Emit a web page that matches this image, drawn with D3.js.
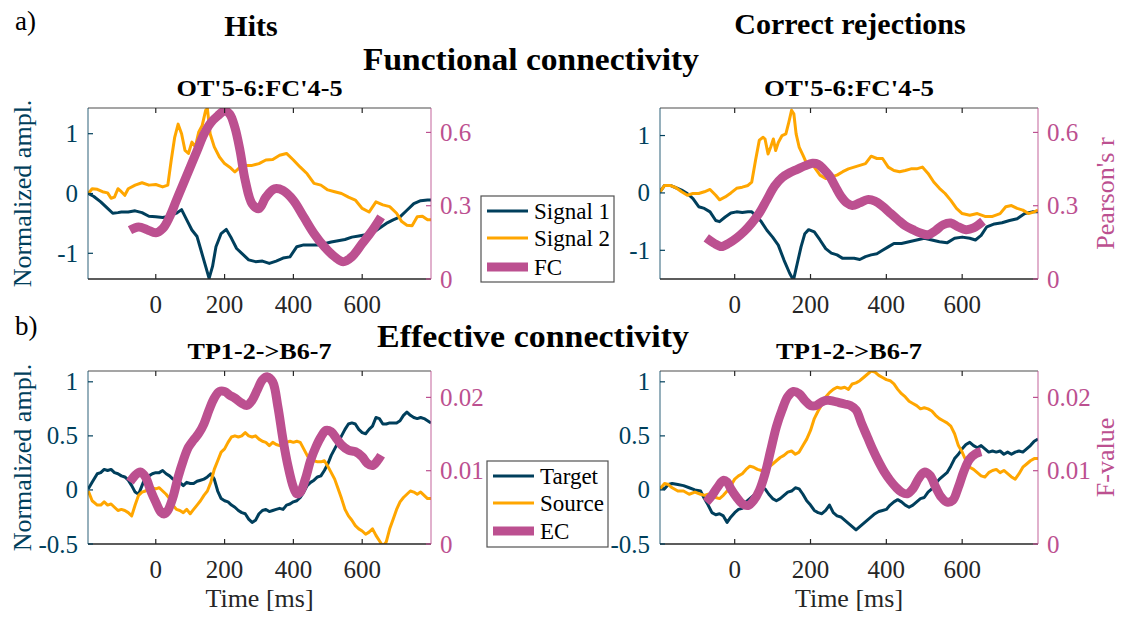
<!DOCTYPE html>
<html>
<head>
<meta charset="utf-8">
<script src="https://cdn.jsdelivr.net/npm/d3@7"></script>
<style>
  html, body { margin: 0; padding: 0; background: #fff; }
</style>
</head>
<body>
<svg id="fig" width="1121" height="617"></svg>
<script>
// ---- data: [time in ms, value] ----
const timeTicks = [0, 200, 400, 600];
const ampTicksTop = [-1, 0, 1];
const ampTicksBottom = [-0.5, 0, 0.5, 1];
const fcTicks = [0, 0.3, 0.6];
const ecTicks = [0, 0.01, 0.02];
const panelTitlesTop = ["OT'5-6:FC'4-5", "OT'5-6:FC'4-5"];
const panelTitlesBottom = ["TP1-2->B6-7", "TP1-2->B6-7"];
const legendTop = ["Signal 1", "Signal 2", "FC"];
const legendBottom = ["Target", "Source", "EC"];

// Hits, functional connectivity
const hitsSignal1 = [[-196,0.0],[-180,-0.05],[-160,-0.14],[-140,-0.25],[-125,-0.33],[-110,-0.32],[-100,-0.31],[-80,-0.31],[-60,-0.29],[-40,-0.32],[-20,-0.38],[0,-0.39],[20,-0.40],[40,-0.38],[60,-0.33],[75,-0.27],[90,-0.44],[105,-0.61],[120,-0.72],[130,-0.92],[145,-1.22],[155,-1.42],[165,-1.22],[175,-0.89],[190,-0.67],[205,-0.60],[220,-0.75],[235,-0.92],[250,-1.0],[270,-1.11],[290,-1.14],[310,-1.13],[330,-1.17],[350,-1.13],[370,-1.08],[390,-1.06],[410,-0.89],[430,-0.86],[450,-0.86],[470,-0.86],[490,-0.84],[510,-0.81],[530,-0.79],[550,-0.77],[570,-0.73],[590,-0.71],[610,-0.69],[630,-0.66],[650,-0.58],[670,-0.50],[690,-0.44],[710,-0.39],[730,-0.28],[750,-0.17],[770,-0.12],[790,-0.11],[800,-0.11]];
const hitsSignal2 = [[-196,0.0],[-185,0.08],[-170,0.07],[-155,0.03],[-140,0.01],[-130,-0.08],[-120,-0.06],[-110,0.08],[-100,0.03],[-90,-0.03],[-80,0.08],[-60,0.14],[-40,0.18],[-20,0.14],[0,0.15],[20,0.11],[35,0.14],[45,0.56],[55,0.94],[65,1.16],[75,1.0],[85,0.72],[95,0.67],[105,0.86],[115,0.78],[125,1.03],[135,1.14],[145,1.39],[150,1.42],[158,1.0],[170,0.78],[185,0.61],[200,0.50],[215,0.44],[230,0.36],[245,0.44],[260,0.47],[280,0.47],[300,0.50],[320,0.56],[340,0.57],[360,0.64],[380,0.67],[400,0.56],[420,0.44],[440,0.33],[460,0.17],[480,0.14],[500,0.06],[520,0.03],[540,0.0],[560,-0.06],[580,-0.11],[600,-0.25],[620,-0.31],[640,-0.14],[660,-0.19],[680,-0.22],[700,-0.33],[715,-0.47],[730,-0.53],[745,-0.54],[760,-0.39],[775,-0.38],[790,-0.44],[800,-0.44]];
const hitsFC = [[-75,0.200],[-50,0.213],[-25,0.202],[0,0.189],[20,0.206],[40,0.254],[60,0.322],[80,0.390],[100,0.457],[120,0.525],[140,0.593],[160,0.640],[180,0.668],[200,0.688],[215,0.675],[230,0.620],[245,0.525],[260,0.403],[280,0.308],[300,0.288],[320,0.335],[345,0.369],[370,0.362],[400,0.322],[430,0.254],[460,0.186],[490,0.132],[520,0.091],[545,0.071],[570,0.091],[600,0.145],[630,0.200],[655,0.254]];

// Correct rejections, functional connectivity
const crSignal1 = [[-197,0.02],[-185,0.13],[-170,0.13],[-155,0.09],[-140,0.05],[-125,-0.01],[-110,-0.10],[-95,-0.24],[-80,-0.27],[-65,-0.33],[-50,-0.48],[-40,-0.50],[-25,-0.42],[-10,-0.35],[5,-0.33],[20,-0.34],[35,-0.33],[45,-0.33],[55,-0.39],[70,-0.50],[85,-0.65],[100,-0.77],[115,-0.91],[130,-1.17],[145,-1.40],[155,-1.52],[165,-1.23],[175,-0.94],[185,-0.71],[195,-0.64],[210,-0.68],[225,-0.82],[240,-0.97],[255,-1.05],[270,-1.08],[285,-1.14],[300,-1.14],[315,-1.14],[330,-1.16],[345,-1.11],[360,-1.08],[375,-1.06],[390,-1.0],[405,-0.94],[420,-0.88],[440,-0.88],[460,-0.85],[480,-0.82],[500,-0.79],[520,-0.82],[540,-0.85],[560,-0.87],[580,-0.79],[600,-0.77],[620,-0.79],[635,-0.82],[650,-0.74],[665,-0.59],[685,-0.54],[705,-0.52],[725,-0.48],[745,-0.45],[765,-0.36],[785,-0.33],[800,-0.33]];
const crSignal2 = [[-197,0.02],[-185,0.13],[-170,0.13],[-155,0.09],[-140,0.02],[-125,-0.04],[-110,-0.01],[-95,-0.01],[-80,0.02],[-65,0.06],[-50,-0.04],[-40,-0.12],[-25,-0.07],[-10,0.0],[5,0.08],[20,0.10],[35,0.13],[45,0.19],[55,0.57],[65,0.92],[75,0.97],[80,0.94],[88,0.68],[95,0.80],[102,0.94],[108,0.74],[115,0.88],[125,1.0],[135,1.03],[142,1.21],[150,1.44],[156,1.38],[162,1.03],[170,0.80],[180,0.66],[190,0.51],[200,0.51],[210,0.45],[225,0.31],[240,0.25],[255,0.28],[270,0.31],[285,0.37],[300,0.42],[315,0.45],[330,0.48],[345,0.51],[360,0.64],[375,0.60],[390,0.60],[405,0.45],[420,0.39],[435,0.37],[450,0.39],[465,0.42],[480,0.42],[495,0.45],[510,0.34],[525,0.19],[540,0.08],[555,-0.01],[570,-0.13],[585,-0.27],[600,-0.36],[620,-0.39],[640,-0.36],[660,-0.41],[680,-0.41],[700,-0.36],[715,-0.24],[730,-0.22],[745,-0.27],[760,-0.30],[775,-0.36],[790,-0.33],[800,-0.30]];
const crFC = [[-75,0.168],[-55,0.147],[-35,0.133],[-15,0.147],[5,0.168],[25,0.195],[45,0.229],[65,0.270],[85,0.325],[105,0.380],[125,0.415],[145,0.435],[165,0.449],[185,0.463],[205,0.474],[220,0.470],[235,0.449],[250,0.422],[265,0.380],[280,0.339],[295,0.312],[310,0.301],[330,0.312],[350,0.325],[370,0.319],[390,0.298],[410,0.270],[430,0.243],[450,0.218],[470,0.202],[490,0.188],[510,0.181],[530,0.199],[550,0.222],[570,0.229],[590,0.213],[610,0.202],[630,0.209],[655,0.236]];

// Hits, effective connectivity
const hitsTarget = [[-196,0.01],[-185,0.07],[-170,0.15],[-160,0.16],[-150,0.19],[-140,0.18],[-130,0.19],[-120,0.16],[-110,0.15],[-100,0.13],[-90,0.12],[-80,0.09],[-70,0.04],[-60,-0.02],[-50,-0.04],[-40,0.04],[-30,0.12],[-20,0.13],[-10,0.15],[0,0.16],[10,0.16],[20,0.18],[30,0.15],[40,0.13],[50,0.10],[60,0.09],[70,0.07],[80,0.04],[90,0.07],[100,0.06],[110,0.06],[120,0.08],[130,0.09],[140,0.10],[150,0.12],[160,0.15],[170,0.10],[180,-0.01],[190,-0.08],[200,-0.10],[210,-0.11],[220,-0.14],[230,-0.16],[240,-0.19],[250,-0.21],[260,-0.22],[270,-0.27],[280,-0.30],[290,-0.28],[300,-0.22],[310,-0.19],[320,-0.18],[330,-0.20],[340,-0.19],[350,-0.18],[360,-0.17],[370,-0.18],[380,-0.14],[390,-0.13],[400,-0.11],[410,-0.10],[420,-0.07],[430,-0.02],[440,0.04],[450,0.07],[460,0.09],[470,0.12],[480,0.13],[490,0.18],[500,0.24],[510,0.32],[520,0.38],[530,0.44],[540,0.50],[550,0.56],[560,0.61],[570,0.62],[580,0.61],[590,0.56],[600,0.53],[610,0.52],[620,0.56],[630,0.59],[640,0.67],[650,0.66],[660,0.61],[670,0.61],[680,0.62],[690,0.62],[700,0.62],[710,0.64],[720,0.69],[730,0.72],[740,0.69],[750,0.67],[760,0.66],[770,0.67],[780,0.66],[790,0.64],[800,0.62]];
const hitsSource = [[-196,-0.01],[-185,-0.10],[-170,-0.14],[-160,-0.14],[-150,-0.11],[-140,-0.14],[-130,-0.13],[-120,-0.16],[-110,-0.19],[-100,-0.18],[-90,-0.19],[-80,-0.21],[-70,-0.24],[-60,-0.14],[-50,-0.05],[-40,-0.02],[-30,-0.01],[-20,0.01],[-10,0.02],[0,0.01],[10,0.02],[20,-0.01],[30,-0.04],[40,-0.08],[50,-0.14],[60,-0.18],[70,-0.19],[80,-0.21],[90,-0.18],[100,-0.22],[110,-0.18],[120,-0.14],[130,-0.10],[140,-0.05],[150,-0.01],[160,0.07],[170,0.19],[180,0.27],[190,0.35],[200,0.38],[210,0.44],[220,0.49],[230,0.50],[240,0.49],[250,0.50],[260,0.53],[270,0.50],[280,0.49],[290,0.50],[300,0.47],[310,0.45],[320,0.44],[330,0.41],[340,0.44],[350,0.42],[360,0.41],[370,0.42],[380,0.44],[390,0.45],[400,0.44],[410,0.45],[420,0.44],[430,0.38],[440,0.32],[450,0.27],[460,0.27],[470,0.26],[480,0.26],[490,0.27],[500,0.22],[510,0.16],[520,0.10],[530,0.01],[540,-0.08],[550,-0.18],[560,-0.24],[570,-0.28],[580,-0.33],[590,-0.36],[600,-0.38],[610,-0.41],[620,-0.39],[630,-0.36],[640,-0.42],[650,-0.47],[660,-0.52],[670,-0.48],[680,-0.36],[690,-0.27],[700,-0.18],[710,-0.11],[720,-0.07],[730,-0.04],[740,-0.01],[750,-0.02],[760,-0.04],[770,-0.02],[780,-0.05],[790,-0.08],[800,-0.08]];
const hitsEC = [[-75,0.00845],[-60,0.00936],[-45,0.00982],[-30,0.00913],[-15,0.0073],[0,0.00571],[15,0.00434],[25,0.00411],[35,0.00457],[50,0.00639],[65,0.00913],[80,0.0114],[95,0.0132],[110,0.0142],[125,0.0151],[140,0.0164],[155,0.0183],[170,0.0199],[185,0.0208],[200,0.0208],[215,0.0203],[230,0.0199],[250,0.0192],[265,0.0189],[280,0.0196],[295,0.0210],[310,0.0224],[325,0.0228],[340,0.0221],[355,0.0187],[370,0.0142],[385,0.0105],[400,0.00776],[410,0.00685],[420,0.00708],[435,0.0089],[450,0.0114],[465,0.0132],[480,0.0146],[495,0.0155],[510,0.0153],[525,0.0144],[540,0.0135],[560,0.0128],[580,0.0126],[600,0.0119],[615,0.0110],[630,0.0107],[645,0.0114],[655,0.0121]];

// Correct rejections, effective connectivity
const crTarget = [[-197,0.02],[-185,0.01],[-175,0.05],[-165,0.06],[-150,0.05],[-135,0.04],[-120,0.02],[-105,0.0],[-90,-0.01],[-80,-0.08],[-70,-0.14],[-60,-0.21],[-50,-0.23],[-40,-0.22],[-30,-0.24],[-20,-0.30],[-10,-0.25],[0,-0.21],[10,-0.18],[20,-0.17],[30,-0.11],[40,-0.08],[50,-0.05],[60,-0.02],[70,0.02],[80,0.01],[90,-0.04],[100,-0.08],[110,-0.10],[120,-0.08],[130,-0.05],[140,-0.02],[150,-0.01],[160,0.02],[170,0.01],[180,-0.04],[190,-0.10],[200,-0.14],[210,-0.19],[220,-0.21],[230,-0.22],[240,-0.19],[250,-0.14],[260,-0.21],[270,-0.24],[280,-0.25],[290,-0.28],[300,-0.31],[310,-0.34],[320,-0.37],[330,-0.34],[340,-0.31],[350,-0.28],[360,-0.25],[370,-0.22],[380,-0.20],[390,-0.19],[400,-0.18],[410,-0.14],[420,-0.11],[430,-0.09],[440,-0.11],[450,-0.14],[460,-0.16],[470,-0.14],[480,-0.11],[490,-0.08],[500,-0.07],[510,-0.02],[520,0.01],[530,0.06],[540,0.10],[550,0.13],[560,0.16],[570,0.22],[580,0.29],[590,0.33],[600,0.38],[610,0.42],[620,0.44],[630,0.41],[640,0.39],[650,0.41],[660,0.38],[670,0.35],[680,0.36],[690,0.35],[700,0.36],[710,0.33],[720,0.35],[730,0.33],[740,0.35],[750,0.36],[760,0.35],[770,0.38],[780,0.41],[790,0.45],[800,0.47]];
const crSource = [[-197,0.01],[-185,0.06],[-175,0.05],[-165,0.02],[-150,-0.01],[-135,-0.01],[-120,-0.04],[-105,-0.02],[-90,-0.04],[-80,-0.05],[-70,-0.04],[-60,-0.05],[-50,-0.07],[-40,-0.08],[-30,-0.05],[-20,-0.01],[-10,0.04],[0,0.10],[10,0.13],[20,0.15],[30,0.19],[40,0.22],[50,0.21],[60,0.19],[70,0.18],[80,0.19],[90,0.21],[100,0.24],[110,0.27],[120,0.30],[130,0.32],[140,0.35],[150,0.36],[160,0.33],[170,0.35],[180,0.41],[190,0.47],[200,0.55],[210,0.66],[220,0.73],[230,0.79],[240,0.86],[250,0.90],[260,0.93],[270,0.95],[280,0.94],[290,0.95],[300,0.93],[310,0.98],[320,0.99],[330,1.01],[340,1.04],[350,1.07],[360,1.10],[370,1.09],[380,1.06],[390,1.04],[400,1.02],[410,1.01],[420,0.98],[430,0.93],[440,0.89],[450,0.86],[460,0.82],[470,0.80],[480,0.78],[490,0.75],[500,0.76],[510,0.75],[520,0.73],[530,0.69],[540,0.66],[550,0.64],[560,0.62],[570,0.59],[580,0.52],[590,0.41],[600,0.35],[610,0.27],[620,0.21],[630,0.19],[640,0.16],[650,0.13],[660,0.12],[670,0.16],[680,0.18],[690,0.19],[700,0.16],[710,0.18],[720,0.15],[730,0.12],[740,0.10],[750,0.15],[760,0.21],[770,0.24],[780,0.27],[790,0.29],[800,0.29]];
const crEC = [[-75,0.00571],[-60,0.00662],[-45,0.00776],[-30,0.00868],[-20,0.00845],[-10,0.00753],[5,0.00639],[20,0.00548],[35,0.00525],[50,0.00594],[65,0.0073],[80,0.00959],[95,0.0128],[110,0.0160],[125,0.0183],[140,0.0201],[155,0.0208],[170,0.0205],[185,0.0196],[200,0.0189],[215,0.0189],[230,0.0194],[245,0.0196],[260,0.0195],[275,0.0193],[290,0.0191],[305,0.0189],[320,0.0183],[335,0.0164],[350,0.0146],[365,0.0128],[380,0.0112],[395,0.0098],[410,0.00868],[425,0.00776],[440,0.00708],[455,0.00685],[470,0.00753],[485,0.0089],[500,0.0098],[515,0.00936],[530,0.00776],[545,0.00639],[560,0.00571],[575,0.00594],[590,0.00776],[605,0.0100],[620,0.0116],[635,0.0123],[650,0.0126]];

// ---- styling ----
const C_SIG1 = "#003f5c", C_SIG2 = "#ffa600", C_CONN = "#bc5090", C_AX = "#262626";
const FONT = "Liberation Serif";

const svg = d3.select("#fig");

function text(x, y, str, opts) {
  const t = svg.append("text").attr("x", x).attr("y", y).text(str)
    .attr("font-family", FONT)
    .attr("font-size", opts.size).attr("fill", opts.fill || "#000")
    .attr("text-anchor", opts.anchor || "middle")
    .attr("font-weight", opts.bold ? "bold" : "normal");
  if (opts.rotate) t.attr("transform", `rotate(${opts.rotate},${x},${y})`);
  if (opts.len) t.attr("textLength", opts.len).attr("lengthAdjust", "spacingAndGlyphs");
  return t;
}

let clipId = 0;
function panel(cfg) {
  const { x0, x1, y0, y1 } = cfg;
  const x = d3.scaleLinear().domain([-197, 800]).range([x0, x1]);
  const yL = d3.scaleLinear().domain(cfg.leftDomain).range([y1, y0]);
  const yR = d3.scaleLinear().domain(cfg.rightDomain).range([y1, y0]);

  const id = "clip" + (clipId++);
  svg.append("clipPath").attr("id", id).append("rect")
    .attr("x", x0).attr("y", y0).attr("width", x1 - x0).attr("height", y1 - y0);
  const g = svg.append("g").attr("clip-path", `url(#${id})`);

  const thin = d3.line().x(d => x(d[0])).y(d => yL(d[1]));
  const thick = d3.line().x(d => x(d[0])).y(d => yR(d[1])).curve(d3.curveCatmullRom.alpha(0.5));

  g.append("path").datum(cfg.s1).attr("d", thin).attr("fill", "none")
    .attr("stroke", C_SIG1).attr("stroke-width", 3).attr("stroke-linejoin", "round");
  g.append("path").datum(cfg.s2).attr("d", thin).attr("fill", "none")
    .attr("stroke", C_SIG2).attr("stroke-width", 3).attr("stroke-linejoin", "round");
  g.append("path").datum(cfg.conn).attr("d", thick).attr("fill", "none")
    .attr("stroke", C_CONN).attr("stroke-width", 9).attr("stroke-linejoin", "round");

  // frame
  svg.append("line").attr("x1", x0).attr("x2", x1).attr("y1", y0).attr("y2", y0)
    .attr("stroke", C_AX).attr("stroke-opacity", 0.55).attr("stroke-width", 1.5);
  svg.append("line").attr("x1", x0).attr("x2", x1).attr("y1", y1).attr("y2", y1)
    .attr("stroke", C_AX).attr("stroke-width", 1.5);
  svg.append("line").attr("x1", x0).attr("x2", x0).attr("y1", y0).attr("y2", y1)
    .attr("stroke", C_SIG1).attr("stroke-opacity", 0.55).attr("stroke-width", 1.5);
  svg.append("line").attr("x1", x1).attr("x2", x1).attr("y1", y0).attr("y2", y1)
    .attr("stroke", C_CONN).attr("stroke-opacity", 0.6).attr("stroke-width", 1.5);

  // time axis: ticks inside at bottom and top
  timeTicks.forEach(t => {
    svg.append("line").attr("x1", x(t)).attr("x2", x(t)).attr("y1", y1).attr("y2", y1 - 5)
      .attr("stroke", C_AX).attr("stroke-width", 1.2);
    svg.append("line").attr("x1", x(t)).attr("x2", x(t)).attr("y1", y0).attr("y2", y0 + 5)
      .attr("stroke", C_AX).attr("stroke-width", 1.2);
    text(x(t), y1 + 34, String(t), { size: 25, fill: C_AX });
  });

  cfg.leftTicks.forEach(v => {
    svg.append("line").attr("x1", x0).attr("x2", x0 + 5).attr("y1", yL(v)).attr("y2", yL(v))
      .attr("stroke", C_SIG1).attr("stroke-width", 1.2);
    text(x0 - 10, yL(v) + 8.5, String(v), { size: 25, fill: C_SIG1, anchor: "end" });
  });
  cfg.rightTicks.forEach(v => {
    svg.append("line").attr("x1", x1).attr("x2", x1 - 5).attr("y1", yR(v)).attr("y2", yR(v))
      .attr("stroke", C_CONN).attr("stroke-width", 1.2);
    text(x1 + 9, yR(v) + 8.5, String(v), { size: 25, fill: C_CONN, anchor: "start" });
  });

  text((x0 + x1) / 2, y0 - 12, cfg.title, { size: 24, bold: true, len: cfg.titleLen });
  if (cfg.xlabel) text((x0 + x1) / 2, y1 + 63, "Time [ms]", { size: 26, fill: C_AX });
  if (cfg.ylabel) text(31, (y0 + y1) / 2, "Normalized ampl.", { size: 26, fill: C_SIG1, rotate: -90 });
  if (cfg.rlabel) text(1114, (y0 + y1) / 2, cfg.rlabel, { size: 26, fill: C_CONN, rotate: -90 });
}

function legend(x0, y0, w, h, rows, labels) {
  svg.append("rect").attr("x", x0).attr("y", y0).attr("width", w).attr("height", h)
    .attr("fill", "#fff").attr("stroke", C_AX).attr("stroke-opacity", 0.8).attr("stroke-width", 1.2);
  const colors = [C_SIG1, C_SIG2, C_CONN];
  const widths = [3, 3, 9];
  labels.forEach((lab, i) => {
    const yy = rows[i];
    svg.append("line").attr("x1", x0 + 6).attr("x2", x0 + 47).attr("y1", yy).attr("y2", yy)
      .attr("stroke", colors[i]).attr("stroke-width", widths[i]);
    text(x0 + 53, yy + 8, lab, { size: 23, fill: "#000", anchor: "start" });
  });
}

// ---- headings ----
text(15, 30, "a)", { size: 27, anchor: "start" });
text(15, 335, "b)", { size: 27, anchor: "start" });
text(251, 36, "Hits", { size: 30, bold: true });
text(850, 34, "Correct rejections", { size: 30, bold: true });
text(531, 70, "Functional connectivity", { size: 31, bold: true, len: 336 });
text(533, 347, "Effective connectivity", { size: 31, bold: true, len: 312 });

// ---- panels ----
panel({ x0: 88, x1: 431, y0: 108, y1: 279, leftDomain: [-1.43, 1.43], rightDomain: [0, 0.7],
  leftTicks: ampTicksTop, rightTicks: fcTicks, s1: hitsSignal1, s2: hitsSignal2, conn: hitsFC,
  title: panelTitlesTop[0], titleLen: 166, ylabel: true });
panel({ x0: 660, x1: 1038, y0: 108, y1: 279, leftDomain: [-1.5, 1.48], rightDomain: [0, 0.7],
  leftTicks: ampTicksTop, rightTicks: fcTicks, s1: crSignal1, s2: crSignal2, conn: crFC,
  title: panelTitlesTop[1], titleLen: 170, rlabel: "Pearson's r" });
panel({ x0: 88, x1: 431, y0: 371, y1: 544, leftDomain: [-0.5, 1.1], rightDomain: [0, 0.0236],
  leftTicks: ampTicksBottom, rightTicks: ecTicks, s1: hitsTarget, s2: hitsSource, conn: hitsEC,
  title: panelTitlesBottom[0], titleLen: 144, ylabel: true, xlabel: true });
panel({ x0: 660, x1: 1038, y0: 371, y1: 544, leftDomain: [-0.5, 1.1], rightDomain: [0, 0.0236],
  leftTicks: ampTicksBottom, rightTicks: ecTicks, s1: crTarget, s2: crSource, conn: crEC,
  title: panelTitlesBottom[1], titleLen: 146, xlabel: true, rlabel: "F-value" });

legend(481, 196, 133, 86, [211, 238, 267], legendTop);
legend(487, 461, 121, 86, [476, 503, 531], legendBottom);
</script>
</body>
</html>
